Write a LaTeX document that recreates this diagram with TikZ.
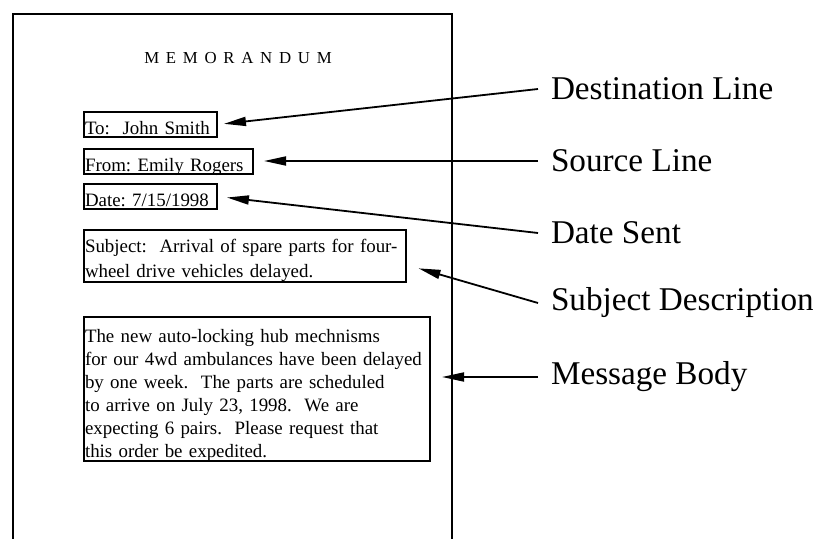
\documentclass[tikz,border=0pt]{standalone}
\usepackage{fontspec}
\setmainfont{Liberation Serif}
\frenchspacing
\usetikzlibrary{arrows.meta,calc}

\begin{document}
\begin{tikzpicture}[x=0.5pt, y=-0.5pt, line width=1pt,
  field/.style={draw, anchor=north west, align=left, inner xsep=0.5pt, inner ysep=0pt,
    font=\fontsize{9.45}{11.5}\selectfont},
  tag/.style={anchor=west, inner xsep=6pt, font=\fontsize{16.6}{20}\selectfont},
  pointer/.style={-{Triangle[length=11pt,width=4.5pt]}, line width=0.9pt}]
  \useasboundingbox (0,0) rectangle (813,539);
  \draw (13,539) -- (13,14) -- (452,14) -- (452,539);
  \node[font=\fontsize{8.4}{10}\selectfont\addfontfeature{LetterSpace=40}] (title) at (238,58) {MEMORANDUM};
  \node[field, text width=65.5pt, text height=11.5pt, text depth=1pt] (to) at (83,111) {To:~ John Smith};
  \node[field, text width=83.5pt, text height=11.5pt, text depth=1pt] (from) at (83,148) {From: Emily Rogers};
  \node[field, text width=65.5pt, text height=11.5pt, text depth=1pt] (date) at (83,183) {Date: 7/15/1998};
  \node[field, text width=160pt, text height=11.5pt, text depth=14.5pt,
    font=\fontsize{9.45}{12.5}\selectfont] (subj) at (83,229)
    {Subject:~ Arrival of spare parts for four-\\wheel drive vehicles delayed.};
  \node[field, text width=172pt, text height=13pt, text depth=59pt] (msg) at (83,316)
    {The new auto-locking hub mechnisms\\
     for our 4wd ambulances have been delayed\\
     by one week.~ The parts are scheduled\\
     to arrive on July 23, 1998.~ We are\\
     expecting 6 pairs.~ Please request that\\
     this order be expedited.};
  \node[tag] (destlbl) at (538,89) {Destination Line};
  \node[tag] (srclbl) at (538,161) {Source Line};
  \node[tag] (datelbl) at (538,233) {Date Sent};
  \node[tag] (subjlbl) at (538,303) {Subject Description};
  \node[tag] (bodylbl) at (538,377) {Message Body};
  \draw[pointer, shorten >=3pt] (destlbl.west) -- (to.east);
  \draw[pointer, shorten >=5pt] (srclbl.west) -- (srclbl.west -| from.east);
  \draw[pointer, shorten >=4.5pt] (datelbl.west) -- (date.east);
  \draw[pointer, shorten >=6pt] (subjlbl.west) -- ($(subj.east)+(0,9)$);
  \draw[pointer, shorten >=5.5pt] (bodylbl.west) -- (bodylbl.west -| msg.east);
\end{tikzpicture}
\end{document}
